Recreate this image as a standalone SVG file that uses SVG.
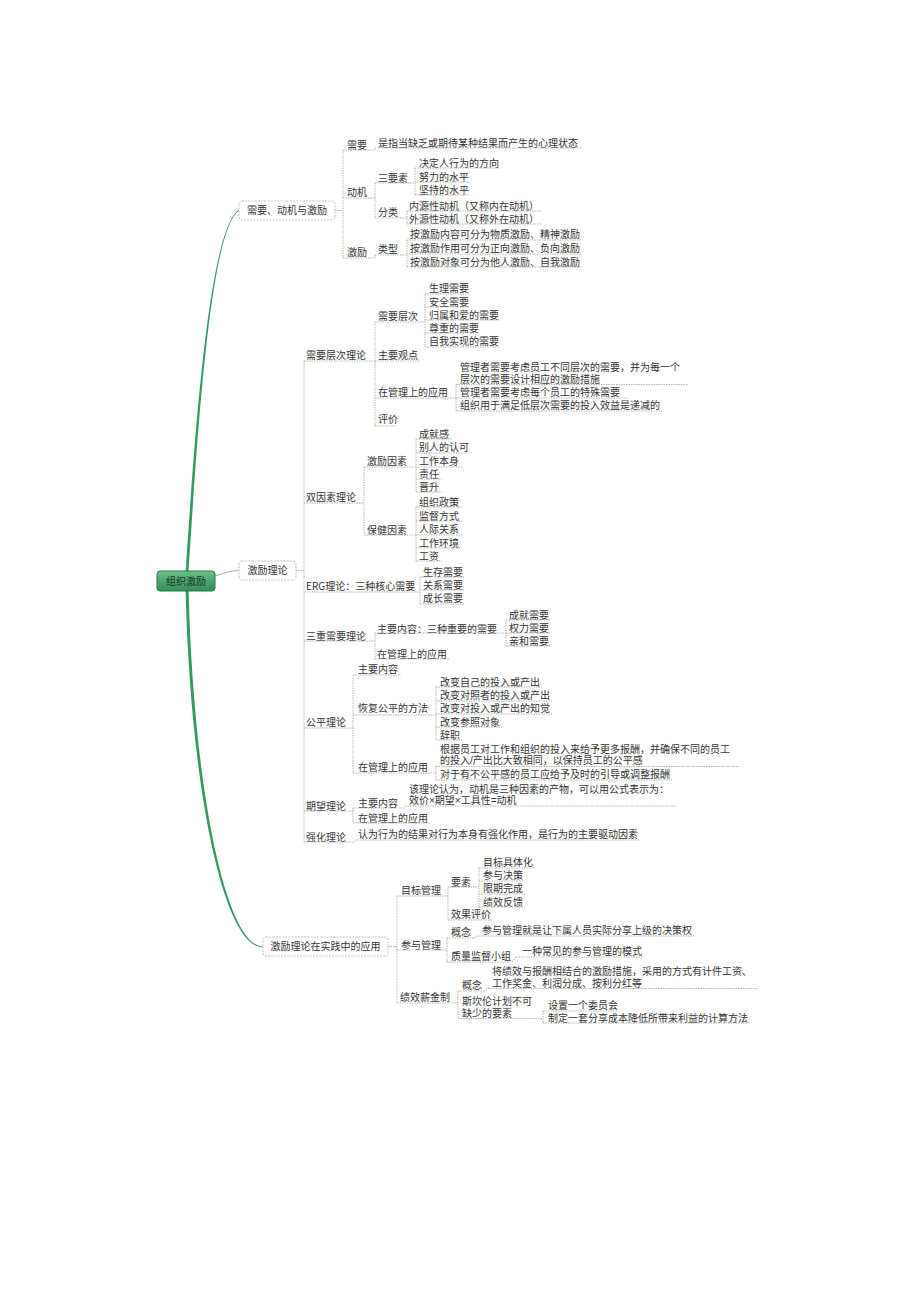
<svg xmlns="http://www.w3.org/2000/svg" width="920" height="1302" viewBox="0 0 920 1302">
<style>
.t{font-family:"Noto Sans CJK SC","Noto Sans",sans-serif;font-size:10px;fill:#333}
.w{font-family:"Liberation Sans","Noto Sans CJK SC",sans-serif}
.u{stroke:#b5b5b5;stroke-width:1;stroke-dasharray:1.5 1;fill:none}
.c{stroke:#b5b5b5;stroke-width:1;stroke-dasharray:1.5 1;fill:none}
.box{fill:#fff;stroke:#bdbdbd;stroke-width:1;stroke-dasharray:2 1.2}
.m{text-anchor:middle}
</style>
<defs>
<linearGradient id="rootg" x1="0" y1="0" x2="0" y2="1">
<stop offset="0" stop-color="#6cc08a"/>
<stop offset="1" stop-color="#2f8f57"/>
</linearGradient>
</defs>
<rect width="920" height="1302" fill="#fff"/>

<g id="connectors">
<path d="M185.7,571 C195.7,420 209.5,229.5 239,209.6 L239,210.6 C210.5,230.8 198.3,420 188.5,571 Z" fill="#329a5e"/>
<path d="M185.6,591 C190.6,791 224,947.8 263,947.3 L263,946.5 C226,946.3 193.4,789 188.6,591 Z" fill="#329a5e"/>
<path d="M215,576 C225,573 230,570.5 239,570.5" stroke="#aaa" stroke-width="1" fill="none"/>
<path class="c" d="M335,210.5 H343 M343,150 V258 M375,183 V218 M415,168 V195 M407,211 V224 M407,240 V267 M375,255 V258 M375,148 V150"/>
<path class="c" d="M296,570.5 H304 M304,361 V842"/>
<path class="c" d="M375,322 V426 M425,294 V347 M456,384 V411"/>
<path class="c" d="M364,467 V535 M416,439 V492 M416,507 V561"/>
<path class="c" d="M420,577 V604"/>
<path class="c" d="M375,633 V659 M506,620 V646"/>
<path class="c" d="M353,675 V773 M436,687 V740 M436,766 V780"/>
<path class="c" d="M353,808 V823"/>
<path class="c" d="M388,946.5 H397 M397,896 V1003"/>
<path class="c" d="M448,887 V920 M479,868 V907"/>
<path class="c" d="M447,938 V962 M474,938 L478,936 M512,962 L516,957"/>
<path class="c" d="M458,991 V1018 M484,991 L488,988 M543,1011 V1023"/>
</g>

<g id="root">
<rect x="157" y="571" width="58" height="20" rx="3" fill="url(#rootg)" stroke="#2a7a4a" stroke-width="1"/>
<text class="t m" x="186" y="584.5" style="fill:#1d3323">组织激励</text>
</g>

<g id="b1">
<rect class="box" x="239" y="201" width="96" height="19" rx="3"/>
<text class="t m" x="287" y="214">需要、动机与激励</text>
</g>
<g id="b1-1"><text class="t" x="347" y="148.5">需要</text><line class="u" x1="343" y1="150" x2="375" y2="150"/></g>
<g id="b1-1-1"><text class="t" x="378" y="146.5">是指当缺乏或期待某种结果而产生的心理状态</text><line class="u" x1="375" y1="148" x2="581" y2="148"/></g>
<g id="b1-2"><text class="t" x="347" y="195.5">动机</text><line class="u" x1="343" y1="198" x2="375" y2="198"/></g>
<g id="b1-2-1"><text class="t" x="378" y="181.5">三要素</text><line class="u" x1="375" y1="183" x2="415" y2="183"/></g>
<g id="b1-2-1-1"><text class="t" x="419" y="166.5">决定人行为的方向</text><line class="u" x1="415" y1="168" x2="500" y2="168"/></g>
<g id="b1-2-1-2"><text class="t" x="419" y="180.5">努力的水平</text><line class="u" x1="415" y1="182" x2="470" y2="182"/></g>
<g id="b1-2-1-3"><text class="t" x="419" y="193.5">坚持的水平</text><line class="u" x1="415" y1="195" x2="470" y2="195"/></g>
<g id="b1-2-2"><text class="t" x="378" y="215.5">分类</text><line class="u" x1="375" y1="218" x2="407" y2="218"/></g>
<g id="b1-2-2-1"><text class="t" x="409" y="209.5">内源性动机（又称内在动机）</text><line class="u" x1="407" y1="211" x2="541" y2="211"/></g>
<g id="b1-2-2-2"><text class="t" x="409" y="222.5">外源性动机（又称外在动机）</text><line class="u" x1="407" y1="224" x2="541" y2="224"/></g>
<g id="b1-3"><text class="t" x="347" y="255.5">激励</text><line class="u" x1="343" y1="258" x2="375" y2="258"/></g>
<g id="b1-3-1"><text class="t" x="378" y="252.5">类型</text><line class="u" x1="375" y1="255" x2="407" y2="255"/></g>
<g id="b1-3-1-1"><text class="t" x="410" y="237.5">按激励内容可分为物质激励、精神激励</text><line class="u" x1="407" y1="240" x2="582" y2="240"/></g>
<g id="b1-3-1-2"><text class="t" x="410" y="251.5">按激励作用可分为正向激励、负向激励</text><line class="u" x1="407" y1="254" x2="582" y2="254"/></g>
<g id="b1-3-1-3"><text class="t" x="410" y="265.5">按激励对象可分为他人激励、自我激励</text><line class="u" x1="407" y1="267" x2="582" y2="267"/></g>

<g id="b2">
<rect class="box" x="239" y="561" width="57" height="19" rx="3"/>
<text class="t m" x="267.5" y="574">激励理论</text>
</g>
<g id="b2-1"><text class="t" x="306" y="358.5">需要层次理论</text><line class="u" x1="304" y1="361" x2="375" y2="361"/></g>
<g id="b2-1-1"><text class="t" x="378" y="319.5">需要层次</text><line class="u" x1="375" y1="322" x2="425" y2="322"/></g>
<g id="b2-1-1-1"><text class="t" x="429" y="291.5">生理需要</text><line class="u" x1="425" y1="294" x2="470" y2="294"/></g>
<g id="b2-1-1-2"><text class="t" x="429" y="305.5">安全需要</text><line class="u" x1="425" y1="307" x2="470" y2="307"/></g>
<g id="b2-1-1-3"><text class="t" x="429" y="318.5">归属和爱的需要</text><line class="u" x1="425" y1="320" x2="500" y2="320"/></g>
<g id="b2-1-1-4"><text class="t" x="429" y="331.5">尊重的需要</text><line class="u" x1="425" y1="333" x2="480" y2="333"/></g>
<g id="b2-1-1-5"><text class="t" x="429" y="344.5">自我实现的需要</text><line class="u" x1="425" y1="347" x2="500" y2="347"/></g>
<g id="b2-1-2"><text class="t" x="378" y="358.5">主要观点</text><line class="u" x1="375" y1="361" x2="420" y2="361"/></g>
<g id="b2-1-3"><text class="t" x="378" y="395.5">在管理上的应用</text><line class="u" x1="375" y1="398" x2="456" y2="398"/></g>
<g id="b2-1-3-1"><text class="t w" x="460" y="371">管理者需要考虑员工不同层次的需要，并为每一个<tspan x="460" dy="11.5">层次的需要设计相应的激励措施</tspan></text><line class="u" x1="456" y1="384.5" x2="688" y2="384.5"/></g>
<g id="b2-1-3-2"><text class="t" x="460" y="395.5">管理者需要考虑每个员工的特殊需要</text><line class="u" x1="456" y1="398" x2="628" y2="398"/></g>
<g id="b2-1-3-3"><text class="t" x="460" y="408.5">组织用于满足低层次需要的投入效益是递减的</text><line class="u" x1="456" y1="411" x2="662" y2="411"/></g>
<g id="b2-1-4"><text class="t" x="378" y="422.5">评价</text><line class="u" x1="375" y1="426" x2="396" y2="426"/></g>

<g id="b2-2"><text class="t" x="306" y="500.5">双因素理论</text><line class="u" x1="304" y1="503" x2="364" y2="503"/></g>
<g id="b2-2-1"><text class="t" x="367" y="464.5">激励因素</text><line class="u" x1="364" y1="467" x2="416" y2="467"/></g>
<g id="b2-2-1-1"><text class="t" x="419" y="437.5">成就感</text><line class="u" x1="416" y1="439" x2="452" y2="439"/></g>
<g id="b2-2-1-2"><text class="t" x="419" y="450.5">别人的认可</text><line class="u" x1="416" y1="453" x2="472" y2="453"/></g>
<g id="b2-2-1-3"><text class="t" x="419" y="464.5">工作本身</text><line class="u" x1="416" y1="467" x2="462" y2="467"/></g>
<g id="b2-2-1-4"><text class="t" x="419" y="477.5">责任</text><line class="u" x1="416" y1="479" x2="442" y2="479"/></g>
<g id="b2-2-1-5"><text class="t" x="419" y="490.5">晋升</text><line class="u" x1="416" y1="492" x2="442" y2="492"/></g>
<g id="b2-2-2"><text class="t" x="367" y="533.5">保健因素</text><line class="u" x1="364" y1="535" x2="416" y2="535"/></g>
<g id="b2-2-2-1"><text class="t" x="419" y="505.5">组织政策</text><line class="u" x1="416" y1="507" x2="462" y2="507"/></g>
<g id="b2-2-2-2"><text class="t" x="419" y="519.5">监督方式</text><line class="u" x1="416" y1="521" x2="462" y2="521"/></g>
<g id="b2-2-2-3"><text class="t" x="419" y="532.5">人际关系</text><line class="u" x1="416" y1="535" x2="462" y2="535"/></g>
<g id="b2-2-2-4"><text class="t" x="419" y="546.5">工作环境</text><line class="u" x1="416" y1="548" x2="462" y2="548"/></g>
<g id="b2-2-2-5"><text class="t" x="419" y="559.5">工资</text><line class="u" x1="416" y1="561" x2="442" y2="561"/></g>

<g id="b2-3"><text class="t" x="306" y="589.5">ERG理论：三种核心需要</text><line class="u" x1="304" y1="592" x2="420" y2="592"/></g>
<g id="b2-3-1"><text class="t" x="423" y="575.5">生存需要</text><line class="u" x1="420" y1="577" x2="465" y2="577"/></g>
<g id="b2-3-2"><text class="t" x="423" y="588.5">关系需要</text><line class="u" x1="420" y1="590" x2="465" y2="590"/></g>
<g id="b2-3-3"><text class="t" x="423" y="601.5">成长需要</text><line class="u" x1="420" y1="604" x2="465" y2="604"/></g>

<g id="b2-4"><text class="t" x="306" y="639.5">三重需要理论</text><line class="u" x1="304" y1="641" x2="375" y2="641"/></g>
<g id="b2-4-1"><text class="t" x="377" y="632.5">主要内容：三种重要的需要</text><line class="u" x1="375" y1="633" x2="506" y2="633"/></g>
<g id="b2-4-1-1"><text class="t" x="509" y="618.5">成就需要</text><line class="u" x1="506" y1="620" x2="551" y2="620"/></g>
<g id="b2-4-1-2"><text class="t" x="509" y="631.5">权力需要</text><line class="u" x1="506" y1="633" x2="551" y2="633"/></g>
<g id="b2-4-1-3"><text class="t" x="509" y="644.5">亲和需要</text><line class="u" x1="506" y1="646" x2="551" y2="646"/></g>
<g id="b2-4-2"><text class="t" x="377" y="657.5">在管理上的应用</text><line class="u" x1="375" y1="659" x2="449" y2="659"/></g>

<g id="b2-5"><text class="t" x="306" y="725.5">公平理论</text><line class="u" x1="304" y1="728" x2="353" y2="728"/></g>
<g id="b2-5-1"><text class="t" x="358" y="672.5">主要内容</text><line class="u" x1="353" y1="675" x2="401" y2="675"/></g>
<g id="b2-5-2"><text class="t" x="358" y="711.5">恢复公平的方法</text><line class="u" x1="353" y1="715" x2="436" y2="715"/></g>
<g id="b2-5-2-1"><text class="t" x="440" y="685.5">改变自己的投入或产出</text><line class="u" x1="436" y1="687" x2="542" y2="687"/></g>
<g id="b2-5-2-2"><text class="t" x="440" y="698.5">改变对照者的投入或产出</text><line class="u" x1="436" y1="701" x2="552" y2="701"/></g>
<g id="b2-5-2-3"><text class="t" x="440" y="711.5">改变对投入或产出的知觉</text><line class="u" x1="436" y1="714" x2="552" y2="714"/></g>
<g id="b2-5-2-4"><text class="t" x="440" y="725.5">改变参照对象</text><line class="u" x1="436" y1="727" x2="502" y2="727"/></g>
<g id="b2-5-2-5"><text class="t" x="440" y="738.5">辞职</text><line class="u" x1="436" y1="740" x2="462" y2="740"/></g>
<g id="b2-5-3"><text class="t" x="358" y="770.5">在管理上的应用</text><line class="u" x1="353" y1="773" x2="436" y2="773"/></g>
<g id="b2-5-3-1"><text class="t w" x="440" y="752.5">根据员工对工作和组织的投入来给予更多报酬，并确保不同的员工<tspan x="440" dy="11.5">的投入/产出比大致相同，以保持员工的公平感</tspan></text><line class="u" x1="436" y1="766.5" x2="739" y2="766.5"/></g>
<g id="b2-5-3-2"><text class="t" x="440" y="777.5">对于有不公平感的员工应给予及时的引导或调整报酬</text><line class="u" x1="436" y1="780" x2="672" y2="780"/></g>

<g id="b2-6"><text class="t" x="306" y="809.5">期望理论</text><line class="u" x1="304" y1="811" x2="353" y2="811"/></g>
<g id="b2-6-1"><text class="t" x="358" y="806.5">主要内容</text><line class="u" x1="353" y1="808" x2="405" y2="808"/></g>
<g id="b2-6-1-1"><text class="t w" x="409" y="792.5">该理论认为，动机是三种因素的产物，可以用公式表示为：<tspan x="409" dy="11.5">效价×期望×工具性=动机</tspan></text><line class="u" x1="405" y1="806" x2="677" y2="806"/></g>
<g id="b2-6-2"><text class="t" x="358" y="821.5">在管理上的应用</text><line class="u" x1="353" y1="823" x2="430" y2="823"/></g>

<g id="b2-7"><text class="t" x="306" y="840.5">强化理论</text><line class="u" x1="304" y1="842" x2="355" y2="842"/></g>
<g id="b2-7-1"><text class="t" x="358" y="837.5">认为行为的结果对行为本身有强化作用，是行为的主要驱动因素</text><line class="u" x1="355" y1="840" x2="640" y2="840"/></g>

<g id="b3">
<rect class="box" x="263" y="937" width="125" height="19" rx="3"/>
<text class="t m" x="325.5" y="950">激励理论在实践中的应用</text>
</g>
<g id="b3-1"><text class="t" x="401" y="893.5">目标管理</text><line class="u" x1="397" y1="896" x2="448" y2="896"/></g>
<g id="b3-1-1"><text class="t" x="451" y="885.5">要素</text><line class="u" x1="448" y1="887" x2="479" y2="887"/></g>
<g id="b3-1-1-1"><text class="t" x="483" y="865.5">目标具体化</text><line class="u" x1="479" y1="868" x2="535" y2="868"/></g>
<g id="b3-1-1-2"><text class="t" x="483" y="878.5">参与决策</text><line class="u" x1="479" y1="881" x2="525" y2="881"/></g>
<g id="b3-1-1-3"><text class="t" x="483" y="891.5">限期完成</text><line class="u" x1="479" y1="894" x2="525" y2="894"/></g>
<g id="b3-1-1-4"><text class="t" x="483" y="905.5">绩效反馈</text><line class="u" x1="479" y1="907" x2="525" y2="907"/></g>
<g id="b3-1-2"><text class="t" x="451" y="917.5">效果评价</text><line class="u" x1="448" y1="920" x2="492" y2="920"/></g>
<g id="b3-2"><text class="t" x="401" y="948.5">参与管理</text><line class="u" x1="397" y1="950" x2="447" y2="950"/></g>
<g id="b3-2-1"><text class="t" x="451" y="935.5">概念</text><line class="u" x1="447" y1="938" x2="474" y2="938"/></g>
<g id="b3-2-1-1"><text class="t" x="482" y="933.5">参与管理就是让下属人员实际分享上级的决策权</text><line class="u" x1="478" y1="936" x2="694" y2="936"/></g>
<g id="b3-2-2"><text class="t" x="451" y="959.5">质量监督小组</text><line class="u" x1="447" y1="962" x2="512" y2="962"/></g>
<g id="b3-2-2-1"><text class="t" x="522" y="954.5">一种常见的参与管理的模式</text><line class="u" x1="516" y1="957" x2="643" y2="957"/></g>
<g id="b3-3"><text class="t" x="400" y="1000.5">绩效薪金制</text><line class="u" x1="397" y1="1003" x2="458" y2="1003"/></g>
<g id="b3-3-1"><text class="t" x="462" y="988.5">概念</text><line class="u" x1="458" y1="991" x2="484" y2="991"/></g>
<g id="b3-3-1-1"><text class="t w" x="492" y="975">将绩效与报酬相结合的激励措施，采用的方式有计件工资、<tspan x="492" dy="11.5">工作奖金、利润分成、按利分红等</tspan></text><line class="u" x1="488" y1="988.5" x2="757" y2="988.5"/></g>
<g id="b3-3-2"><text class="t w" x="462" y="1005">斯坎伦计划不可<tspan x="462" dy="11.5">缺少的要素</tspan></text><line class="u" x1="458" y1="1018.5" x2="543" y2="1018.5"/></g>
<g id="b3-3-2-1"><text class="t" x="548" y="1008.5">设置一个委员会</text><line class="u" x1="543" y1="1011" x2="618" y2="1011"/></g>
<g id="b3-3-2-2"><text class="t" x="548" y="1021.5">制定一套分享成本降低所带来利益的计算方法</text><line class="u" x1="543" y1="1023" x2="750" y2="1023"/></g>
</svg>
